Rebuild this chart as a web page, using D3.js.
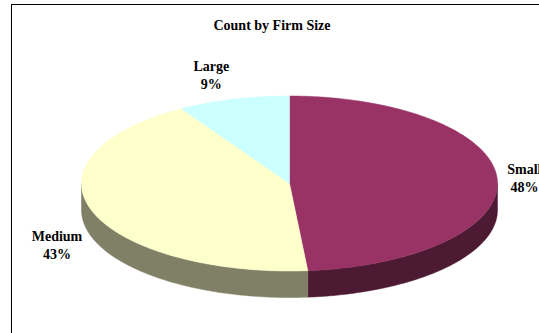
<!DOCTYPE html>
<html>
<head>
<meta charset="utf-8">
<script src="https://cdn.jsdelivr.net/npm/d3@7"></script>
<style>
  html, body { margin: 0; padding: 0; background: #fff; }
  svg { display: block; }
</style>
</head>
<body>
<svg id="chart" width="539" height="333"></svg>
<script>
// ---- data ----
const title = "Count by Firm Size";
const categories = ["Small", "Medium", "Large"];
const values = [48.6, 42.7, 8.7];
const percentLabels = ["48%", "43%", "9%"];
const topColors = ["#993366", "#FFFFCC", "#CCFFFF"];
const sideColors = ["#4D1A33", "#808066", "#668080"];

// ---- layout ----
const W = 539, H = 333;
const cx = 289.5, cy = 183.5, rx = 208, ry = 87.5, depth = 26.5;

const svg = d3.select("#chart");

// frame
svg.append("rect")
  .attr("x", 11.5).attr("y", 4.5)
  .attr("width", W + 20).attr("height", H + 20)
  .attr("fill", "#fff").attr("stroke", "#000").attr("stroke-width", 1);

// title
svg.append("text")
  .attr("x", 272).attr("y", 30)
  .attr("text-anchor", "middle")
  .attr("font-family", "'Liberation Serif', 'Times New Roman', serif")
  .attr("font-weight", "bold").attr("font-size", 14)
  .attr("fill", "#000")
  .text(title);

const pie = d3.pie().sort(null).value(d => d)
  .startAngle(0).endAngle(2 * Math.PI);
const arcs = pie(values);

function pt(a, dy = 0) {
  return [cx + rx * Math.sin(a), cy - ry * Math.cos(a) + dy];
}
function sample(a0, a1, dy) {
  const n = Math.max(2, Math.ceil(Math.abs(a1 - a0) / 0.01));
  const s = d3.scaleLinear().domain([0, n]).range([a0, a1]);
  return d3.range(n + 1).map(i => pt(s(i), dy));
}
const line = d3.line();

// side walls (visible front half: angles PI/2 .. 3PI/2)
const g = svg.append("g");
arcs.forEach((d, i) => {
  const s0 = Math.max(d.startAngle, Math.PI / 2);
  const s1 = Math.min(d.endAngle, 3 * Math.PI / 2);
  if (s1 <= s0) return;
  const pts = sample(s0, s1, 0).concat(sample(s1, s0, depth));
  g.append("path")
    .attr("d", line(pts) + "Z")
    .attr("fill", sideColors[i])
    .attr("stroke", sideColors[i]).attr("stroke-width", 0.5);
});

// top faces
arcs.forEach((d, i) => {
  const pts = [[cx, cy]].concat(sample(d.startAngle, d.endAngle, 0));
  g.append("path")
    .attr("d", line(pts) + "Z")
    .attr("fill", topColors[i])
    .attr("stroke", topColors[i]).attr("stroke-width", 0.5);
});

// labels
arcs.forEach((d, i) => {
  const mid = (d.startAngle + d.endAngle) / 2;
  const s = Math.sin(mid), c = Math.cos(mid);
  const P = pt(mid, c < 0 ? depth : 0);
  const gap = 2 + 8 * Math.abs(s);
  const t = svg.append("text")
    .attr("font-family", "'Liberation Serif', 'Times New Roman', serif")
    .attr("font-weight", "bold").attr("font-size", 14)
    .attr("fill", "#000")
    .attr("text-anchor", "middle");
  const t1 = t.append("tspan").text(categories[i]);
  const t2 = t.append("tspan").text(percentLabels[i]);
  const w = Math.max(t1.node().getComputedTextLength(), t2.node().getComputedTextLength());
  const lx = s >= 0 ? P[0] + gap + w / 2 : P[0] - gap - w / 2;
  const ly = P[1] - c * 25;
  t1.attr("x", lx).attr("y", ly - 4.3);
  t2.attr("x", lx).attr("y", ly + 13.7);
});
</script>
</body>
</html>
